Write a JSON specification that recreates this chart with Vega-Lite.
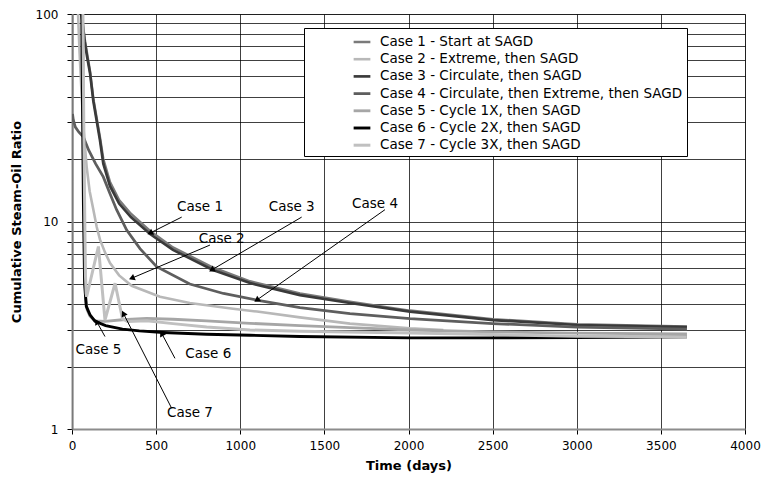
{
  "$schema": "https://vega.github.io/schema/vega-lite/v6.json",
  "width": 673,
  "height": 415,
  "autosize": {"type": "none"},
  "padding": {"left": 72, "top": 14, "right": 19, "bottom": 54},
  "background": "white",
  "config": {
    "view": {"stroke": "#808080", "strokeWidth": 1},
    "font": "DejaVu Sans",
    "axis": {
      "domainColor": "#8c8c8c", "domainWidth": 2,
      "tickColor": "#000", "tickSize": 5,
      "labelFont": "DejaVu Sans", "labelFontSize": 12, "labelColor": "#000",
      "titleFont": "DejaVu Sans", "titleFontSize": 13, "titleFontWeight": "bold", "titleColor": "#000",
      "grid": true, "gridColor": "#000", "gridOpacity": 0.75, "gridWidth": 1,
      "labelOverlap": false, "labelFlush": false
    }
  },
  "datasets": {
    "curves": [
      {"case": "Case 1 - Start at SAGD", "day": 0, "sor": 1},
      {"case": "Case 1 - Start at SAGD", "day": 2, "sor": 200},
      {"case": "Case 1 - Start at SAGD", "day": 48, "sor": 200},
      {"case": "Case 1 - Start at SAGD", "day": 56, "sor": 100},
      {"case": "Case 1 - Start at SAGD", "day": 75, "sor": 76},
      {"case": "Case 1 - Start at SAGD", "day": 107, "sor": 53},
      {"case": "Case 1 - Start at SAGD", "day": 127, "sor": 39},
      {"case": "Case 1 - Start at SAGD", "day": 166, "sor": 25.5},
      {"case": "Case 1 - Start at SAGD", "day": 186, "sor": 20},
      {"case": "Case 1 - Start at SAGD", "day": 226, "sor": 15.5},
      {"case": "Case 1 - Start at SAGD", "day": 280, "sor": 12.7},
      {"case": "Case 1 - Start at SAGD", "day": 350, "sor": 10.9},
      {"case": "Case 1 - Start at SAGD", "day": 464, "sor": 9.0},
      {"case": "Case 1 - Start at SAGD", "day": 600, "sor": 7.5},
      {"case": "Case 1 - Start at SAGD", "day": 838, "sor": 6.0},
      {"case": "Case 1 - Start at SAGD", "day": 1058, "sor": 5.15},
      {"case": "Case 1 - Start at SAGD", "day": 1355, "sor": 4.5},
      {"case": "Case 1 - Start at SAGD", "day": 1652, "sor": 4.1},
      {"case": "Case 1 - Start at SAGD", "day": 2009, "sor": 3.72},
      {"case": "Case 1 - Start at SAGD", "day": 2503, "sor": 3.38},
      {"case": "Case 1 - Start at SAGD", "day": 3002, "sor": 3.2},
      {"case": "Case 1 - Start at SAGD", "day": 3655, "sor": 3.12},

      {"case": "Case 2 - Extreme, then SAGD", "day": 30, "sor": 200},
      {"case": "Case 2 - Extreme, then SAGD", "day": 36, "sor": 100},
      {"case": "Case 2 - Extreme, then SAGD", "day": 45, "sor": 65},
      {"case": "Case 2 - Extreme, then SAGD", "day": 58, "sor": 40},
      {"case": "Case 2 - Extreme, then SAGD", "day": 70, "sor": 27},
      {"case": "Case 2 - Extreme, then SAGD", "day": 87, "sor": 18.4},
      {"case": "Case 2 - Extreme, then SAGD", "day": 105, "sor": 14},
      {"case": "Case 2 - Extreme, then SAGD", "day": 127, "sor": 11.4},
      {"case": "Case 2 - Extreme, then SAGD", "day": 147, "sor": 9.4},
      {"case": "Case 2 - Extreme, then SAGD", "day": 166, "sor": 8.2},
      {"case": "Case 2 - Extreme, then SAGD", "day": 196, "sor": 7.1},
      {"case": "Case 2 - Extreme, then SAGD", "day": 226, "sor": 6.3},
      {"case": "Case 2 - Extreme, then SAGD", "day": 280, "sor": 5.5},
      {"case": "Case 2 - Extreme, then SAGD", "day": 355, "sor": 4.9},
      {"case": "Case 2 - Extreme, then SAGD", "day": 523, "sor": 4.34},
      {"case": "Case 2 - Extreme, then SAGD", "day": 700, "sor": 4.05},
      {"case": "Case 2 - Extreme, then SAGD", "day": 957, "sor": 3.8},
      {"case": "Case 2 - Extreme, then SAGD", "day": 1100, "sor": 3.68},
      {"case": "Case 2 - Extreme, then SAGD", "day": 1355, "sor": 3.45},
      {"case": "Case 2 - Extreme, then SAGD", "day": 1652, "sor": 3.22},
      {"case": "Case 2 - Extreme, then SAGD", "day": 2009, "sor": 3.06},
      {"case": "Case 2 - Extreme, then SAGD", "day": 2207, "sor": 3.0},

      {"case": "Case 3 - Circulate, then SAGD", "day": 52, "sor": 200},
      {"case": "Case 3 - Circulate, then SAGD", "day": 58, "sor": 100},
      {"case": "Case 3 - Circulate, then SAGD", "day": 75, "sor": 74},
      {"case": "Case 3 - Circulate, then SAGD", "day": 90, "sor": 62},
      {"case": "Case 3 - Circulate, then SAGD", "day": 107, "sor": 52},
      {"case": "Case 3 - Circulate, then SAGD", "day": 127, "sor": 38},
      {"case": "Case 3 - Circulate, then SAGD", "day": 166, "sor": 24.7},
      {"case": "Case 3 - Circulate, then SAGD", "day": 186, "sor": 19},
      {"case": "Case 3 - Circulate, then SAGD", "day": 226, "sor": 14.8},
      {"case": "Case 3 - Circulate, then SAGD", "day": 280, "sor": 12.2},
      {"case": "Case 3 - Circulate, then SAGD", "day": 350, "sor": 10.5},
      {"case": "Case 3 - Circulate, then SAGD", "day": 464, "sor": 8.7},
      {"case": "Case 3 - Circulate, then SAGD", "day": 600, "sor": 7.3},
      {"case": "Case 3 - Circulate, then SAGD", "day": 838, "sor": 5.84},
      {"case": "Case 3 - Circulate, then SAGD", "day": 1058, "sor": 5.05},
      {"case": "Case 3 - Circulate, then SAGD", "day": 1355, "sor": 4.42},
      {"case": "Case 3 - Circulate, then SAGD", "day": 1652, "sor": 4.05},
      {"case": "Case 3 - Circulate, then SAGD", "day": 2009, "sor": 3.68},
      {"case": "Case 3 - Circulate, then SAGD", "day": 2503, "sor": 3.35},
      {"case": "Case 3 - Circulate, then SAGD", "day": 3002, "sor": 3.17},
      {"case": "Case 3 - Circulate, then SAGD", "day": 3655, "sor": 3.1},

      {"case": "Case 4 - Circulate, then Extreme, then SAGD", "day": 3, "sor": 33},
      {"case": "Case 4 - Circulate, then Extreme, then SAGD", "day": 8, "sor": 30.8},
      {"case": "Case 4 - Circulate, then Extreme, then SAGD", "day": 20, "sor": 28.5},
      {"case": "Case 4 - Circulate, then Extreme, then SAGD", "day": 40, "sor": 27},
      {"case": "Case 4 - Circulate, then Extreme, then SAGD", "day": 67, "sor": 25.6},
      {"case": "Case 4 - Circulate, then Extreme, then SAGD", "day": 100, "sor": 22},
      {"case": "Case 4 - Circulate, then Extreme, then SAGD", "day": 140, "sor": 19},
      {"case": "Case 4 - Circulate, then Extreme, then SAGD", "day": 186, "sor": 16.4},
      {"case": "Case 4 - Circulate, then Extreme, then SAGD", "day": 226, "sor": 13.6},
      {"case": "Case 4 - Circulate, then Extreme, then SAGD", "day": 265, "sor": 11.4},
      {"case": "Case 4 - Circulate, then Extreme, then SAGD", "day": 325, "sor": 9.1},
      {"case": "Case 4 - Circulate, then Extreme, then SAGD", "day": 404, "sor": 7.4},
      {"case": "Case 4 - Circulate, then Extreme, then SAGD", "day": 503, "sor": 6.06},
      {"case": "Case 4 - Circulate, then Extreme, then SAGD", "day": 700, "sor": 5.0},
      {"case": "Case 4 - Circulate, then Extreme, then SAGD", "day": 900, "sor": 4.5},
      {"case": "Case 4 - Circulate, then Extreme, then SAGD", "day": 1098, "sor": 4.18},
      {"case": "Case 4 - Circulate, then Extreme, then SAGD", "day": 1355, "sor": 3.85},
      {"case": "Case 4 - Circulate, then Extreme, then SAGD", "day": 1652, "sor": 3.6},
      {"case": "Case 4 - Circulate, then Extreme, then SAGD", "day": 2009, "sor": 3.4},
      {"case": "Case 4 - Circulate, then Extreme, then SAGD", "day": 2500, "sor": 3.22},
      {"case": "Case 4 - Circulate, then Extreme, then SAGD", "day": 3002, "sor": 3.1},
      {"case": "Case 4 - Circulate, then Extreme, then SAGD", "day": 3655, "sor": 3.03},

      {"case": "Case 5 - Cycle 1X, then SAGD", "day": 60, "sor": 200},
      {"case": "Case 5 - Cycle 1X, then SAGD", "day": 65, "sor": 60},
      {"case": "Case 5 - Cycle 1X, then SAGD", "day": 68, "sor": 20},
      {"case": "Case 5 - Cycle 1X, then SAGD", "day": 72, "sor": 10},
      {"case": "Case 5 - Cycle 1X, then SAGD", "day": 77, "sor": 5.5},
      {"case": "Case 5 - Cycle 1X, then SAGD", "day": 82, "sor": 4.2},
      {"case": "Case 5 - Cycle 1X, then SAGD", "day": 90, "sor": 3.75},
      {"case": "Case 5 - Cycle 1X, then SAGD", "day": 107, "sor": 3.5},
      {"case": "Case 5 - Cycle 1X, then SAGD", "day": 137, "sor": 3.32},
      {"case": "Case 5 - Cycle 1X, then SAGD", "day": 196, "sor": 3.3},
      {"case": "Case 5 - Cycle 1X, then SAGD", "day": 300, "sor": 3.36},
      {"case": "Case 5 - Cycle 1X, then SAGD", "day": 444, "sor": 3.41},
      {"case": "Case 5 - Cycle 1X, then SAGD", "day": 600, "sor": 3.38},
      {"case": "Case 5 - Cycle 1X, then SAGD", "day": 800, "sor": 3.32},
      {"case": "Case 5 - Cycle 1X, then SAGD", "day": 1058, "sor": 3.23},
      {"case": "Case 5 - Cycle 1X, then SAGD", "day": 1355, "sor": 3.15},
      {"case": "Case 5 - Cycle 1X, then SAGD", "day": 1652, "sor": 3.08},
      {"case": "Case 5 - Cycle 1X, then SAGD", "day": 2009, "sor": 3.0},
      {"case": "Case 5 - Cycle 1X, then SAGD", "day": 2500, "sor": 2.94},
      {"case": "Case 5 - Cycle 1X, then SAGD", "day": 3000, "sor": 2.9},
      {"case": "Case 5 - Cycle 1X, then SAGD", "day": 3655, "sor": 2.87},

      {"case": "Case 6 - Cycle 2X, then SAGD", "day": 55, "sor": 200},
      {"case": "Case 6 - Cycle 2X, then SAGD", "day": 62, "sor": 40},
      {"case": "Case 6 - Cycle 2X, then SAGD", "day": 68, "sor": 12},
      {"case": "Case 6 - Cycle 2X, then SAGD", "day": 75, "sor": 5},
      {"case": "Case 6 - Cycle 2X, then SAGD", "day": 85, "sor": 3.9},
      {"case": "Case 6 - Cycle 2X, then SAGD", "day": 107, "sor": 3.55},
      {"case": "Case 6 - Cycle 2X, then SAGD", "day": 137, "sor": 3.3},
      {"case": "Case 6 - Cycle 2X, then SAGD", "day": 200, "sor": 3.15},
      {"case": "Case 6 - Cycle 2X, then SAGD", "day": 300, "sor": 3.03},
      {"case": "Case 6 - Cycle 2X, then SAGD", "day": 400, "sor": 2.97},
      {"case": "Case 6 - Cycle 2X, then SAGD", "day": 543, "sor": 2.92},
      {"case": "Case 6 - Cycle 2X, then SAGD", "day": 800, "sor": 2.86},
      {"case": "Case 6 - Cycle 2X, then SAGD", "day": 1058, "sor": 2.83},
      {"case": "Case 6 - Cycle 2X, then SAGD", "day": 1355, "sor": 2.79},
      {"case": "Case 6 - Cycle 2X, then SAGD", "day": 2009, "sor": 2.75},
      {"case": "Case 6 - Cycle 2X, then SAGD", "day": 2500, "sor": 2.75},
      {"case": "Case 6 - Cycle 2X, then SAGD", "day": 3000, "sor": 2.76},
      {"case": "Case 6 - Cycle 2X, then SAGD", "day": 3655, "sor": 2.78},

      {"case": "Case 7 - Cycle 3X, then SAGD", "day": 62, "sor": 200},
      {"case": "Case 7 - Cycle 3X, then SAGD", "day": 70, "sor": 30},
      {"case": "Case 7 - Cycle 3X, then SAGD", "day": 76, "sor": 10},
      {"case": "Case 7 - Cycle 3X, then SAGD", "day": 80, "sor": 5.5},
      {"case": "Case 7 - Cycle 3X, then SAGD", "day": 84, "sor": 4.5},
      {"case": "Case 7 - Cycle 3X, then SAGD", "day": 87, "sor": 4.34},
      {"case": "Case 7 - Cycle 3X, then SAGD", "day": 157, "sor": 7.58},
      {"case": "Case 7 - Cycle 3X, then SAGD", "day": 196, "sor": 3.35},
      {"case": "Case 7 - Cycle 3X, then SAGD", "day": 256, "sor": 5.04},
      {"case": "Case 7 - Cycle 3X, then SAGD", "day": 300, "sor": 3.4},
      {"case": "Case 7 - Cycle 3X, then SAGD", "day": 330, "sor": 3.3},
      {"case": "Case 7 - Cycle 3X, then SAGD", "day": 444, "sor": 3.32},
      {"case": "Case 7 - Cycle 3X, then SAGD", "day": 600, "sor": 3.22},
      {"case": "Case 7 - Cycle 3X, then SAGD", "day": 800, "sor": 3.1},
      {"case": "Case 7 - Cycle 3X, then SAGD", "day": 1058, "sor": 3.0},
      {"case": "Case 7 - Cycle 3X, then SAGD", "day": 1355, "sor": 2.96},
      {"case": "Case 7 - Cycle 3X, then SAGD", "day": 2009, "sor": 2.9},
      {"case": "Case 7 - Cycle 3X, then SAGD", "day": 2500, "sor": 2.85},
      {"case": "Case 7 - Cycle 3X, then SAGD", "day": 3000, "sor": 2.8},
      {"case": "Case 7 - Cycle 3X, then SAGD", "day": 3655, "sor": 2.78}
    ],
    "notes": [
      {"label": "Case 1", "tx": 761, "ty": 11.8, "ax": 652, "ay": 10.5, "hx": 464, "hy": 8.8},
      {"label": "Case 2", "tx": 890, "ty": 8.2, "ax": 820, "ay": 7.7, "hx": 355, "hy": 5.33},
      {"label": "Case 3", "tx": 1306, "ty": 11.8, "ax": 1365, "ay": 10.5, "hx": 830, "hy": 5.84},
      {"label": "Case 4", "tx": 1801, "ty": 12.1, "ax": 1860, "ay": 11.4, "hx": 1098, "hy": 4.18},
      {"label": "Case 5", "tx": 157, "ty": 2.4, "ax": 196, "ay": 2.79, "hx": 147, "hy": 3.29},
      {"label": "Case 6", "tx": 810, "ty": 2.3, "ax": 612, "ay": 2.19, "hx": 533, "hy": 2.89},
      {"label": "Case 7", "tx": 701, "ty": 1.19, "ax": 592, "ay": 1.26, "hx": 305, "hy": 3.61}
    ]
  },
  "layer": [
    {
      "data": {"name": "curves"},
      "mark": {"type": "line", "clip": true},
      "encoding": {
        "x": {"field": "day", "type": "quantitative", "title": "Time (days)",
              "scale": {"domain": [0, 4000], "nice": false},
              "axis": {"values": [0, 500, 1000, 1500, 2000, 2500, 3000, 3500, 4000], "format": "d", "labelPadding": 6, "titlePadding": 8}},
        "y": {"field": "sor", "type": "quantitative", "title": "Cumulative Steam-Oil Ratio",
              "scale": {"type": "log", "domain": [1, 100], "nice": false},
              "axis": {"values": [1, 2, 3, 4, 5, 6, 7, 8, 9, 10, 20, 30, 40, 50, 60, 70, 80, 90, 100],
                       "labelExpr": "indexof([1, 10, 100], datum.value) >= 0 ? '' + datum.value : ''",
                       "labelPadding": 9, "titlePadding": 12}},
        "color": {"field": "case", "type": "nominal",
                  "scale": {"domain": ["Case 1 - Start at SAGD", "Case 2 - Extreme, then SAGD", "Case 3 - Circulate, then SAGD", "Case 4 - Circulate, then Extreme, then SAGD", "Case 5 - Cycle 1X, then SAGD", "Case 6 - Cycle 2X, then SAGD", "Case 7 - Cycle 3X, then SAGD"],
                            "range": ["#7a7a7a", "#b8b8b8", "#3a3a3a", "#5e5e5e", "#a6a6a6", "#000000", "#c0c0c0"]},
                  "legend": {"orient": "none", "legendX": 232, "legendY": 14, "title": null,
                             "fillColor": "white", "strokeColor": "#000", "padding": 4,
                             "symbolType": "stroke", "symbolSize": 280, "symbolStrokeWidth": 1.5,
                             "symbolOffset": 44, "labelOffset": 8, "rowPadding": 0.2,
                             "labelFont": "DejaVu Sans", "labelFontSize": 13.5, "labelColor": "#000",
                             "labelExpr": "datum.label + '\u00a0\u00a0\u00a0\u00a0\u00a0\u00a0\u00a0\u00a0\u00a0\u00a0\u00a0\u00a0\u00a0\u00a0'",
                             "labelLimit": 700}},
        "strokeWidth": {"field": "case", "type": "nominal",
                        "scale": {"domain": ["Case 1 - Start at SAGD", "Case 2 - Extreme, then SAGD", "Case 3 - Circulate, then SAGD", "Case 4 - Circulate, then Extreme, then SAGD", "Case 5 - Cycle 1X, then SAGD", "Case 6 - Cycle 2X, then SAGD", "Case 7 - Cycle 3X, then SAGD"],
                                  "range": [2.5, 3, 3.5, 2.5, 2, 1.5, 1.5]},
                        "legend": null}
      }
    },
    {
      "data": {"name": "notes"},
      "mark": {"type": "rule", "color": "#000", "strokeWidth": 1},
      "encoding": {
        "x": {"field": "ax", "type": "quantitative", "title": "Time (days)"},
        "y": {"field": "ay", "type": "quantitative", "title": "Cumulative Steam-Oil Ratio"},
        "x2": {"field": "hx"},
        "y2": {"field": "hy"}
      }
    },
    {
      "data": {"name": "notes"},
      "transform": [
        {"calculate": "atan2((datum.hx - datum.ax) * 673 / 4000, (log(datum.hy) - log(datum.ay)) / LN10 * 207.5) * 180 / PI", "as": "ang"}
      ],
      "mark": {"type": "point", "shape": "triangle-up", "filled": true, "color": "#000", "size": 45, "opacity": 1},
      "encoding": {
        "x": {"field": "hx", "type": "quantitative", "title": "Time (days)"},
        "y": {"field": "hy", "type": "quantitative", "title": "Cumulative Steam-Oil Ratio"},
        "angle": {"field": "ang", "type": "quantitative", "scale": null}
      }
    },
    {
      "data": {"name": "notes"},
      "mark": {"type": "text", "font": "DejaVu Sans", "fontSize": 13.5, "color": "#000", "align": "center", "baseline": "middle"},
      "encoding": {
        "x": {"field": "tx", "type": "quantitative", "title": "Time (days)"},
        "y": {"field": "ty", "type": "quantitative", "title": "Cumulative Steam-Oil Ratio"},
        "text": {"field": "label"}
      }
    }
  ]
}
